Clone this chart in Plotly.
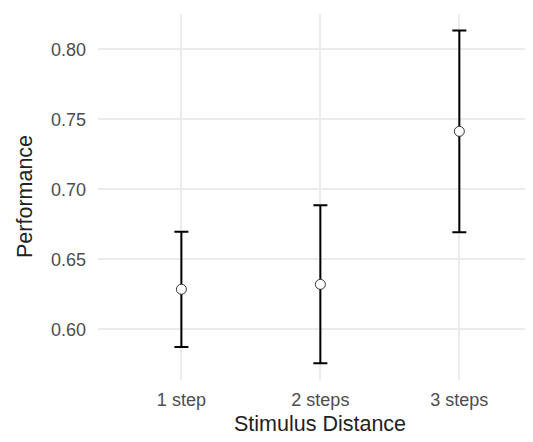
import plotly.graph_objects as go

categories = ["1 step", "2 steps", "3 steps"]
performance = [0.6286, 0.6321, 0.7414]
upper = [0.6697, 0.6886, 0.8135]
lower = [0.5874, 0.5757, 0.6693]
y_ticks = [0.60, 0.65, 0.70, 0.75, 0.80]

err_plus = [u - m for u, m in zip(upper, performance)]
err_minus = [m - l for m, l in zip(performance, lower)]
xpos = list(range(len(categories)))

fig = go.Figure()
fig.add_trace(go.Scatter(
    x=xpos, y=performance, mode="markers",
    marker=dict(size=10, color="white", line=dict(color="#333333", width=1)),
    error_y=dict(type="data", symmetric=False, array=err_plus, arrayminus=err_minus,
                 color="black", thickness=2, width=7),
    showlegend=False, hoverinfo="skip",
))

font = "Liberation Sans, Arial, sans-serif"
fig.update_layout(
    width=525, height=434,
    margin=dict(l=90, r=0, t=6, b=62),
    paper_bgcolor="white", plot_bgcolor="white",
    font=dict(family=font, color="#4d4d4d", size=18),
    xaxis=dict(range=[-0.6, 2.53], tickmode="array", tickvals=xpos, ticktext=categories,
               showgrid=True, gridcolor="#ebebeb", gridwidth=2, zeroline=False,
               showline=False, ticks="", ticklabelstandoff=7,
               tickfont=dict(size=18, color="#4d4d4d")),
    yaxis=dict(range=[0.5638, 0.8252], tickmode="array", tickvals=y_ticks,
               ticktext=[f"{v:.2f}" for v in y_ticks],
               showgrid=True, gridcolor="#ebebeb", gridwidth=2, zeroline=False,
               showline=False, ticks="", ticklabelstandoff=11,
               tickfont=dict(size=18, color="#4d4d4d")),
    annotations=[
        dict(text="Stimulus Distance", x=1, xref="x", xanchor="center", y=0, yref="paper",
             yanchor="top", yshift=-30, showarrow=False,
             font=dict(size=21.5, color="#222222", family=font)),
        dict(text="Performance", x=0, xref="paper", xanchor="center", xshift=-73,
             y=0.5, yref="paper", yanchor="middle",
             textangle=-90, showarrow=False,
             font=dict(size=21.5, color="#222222", family=font)),
    ],
)

fig.write_html("out.html")
